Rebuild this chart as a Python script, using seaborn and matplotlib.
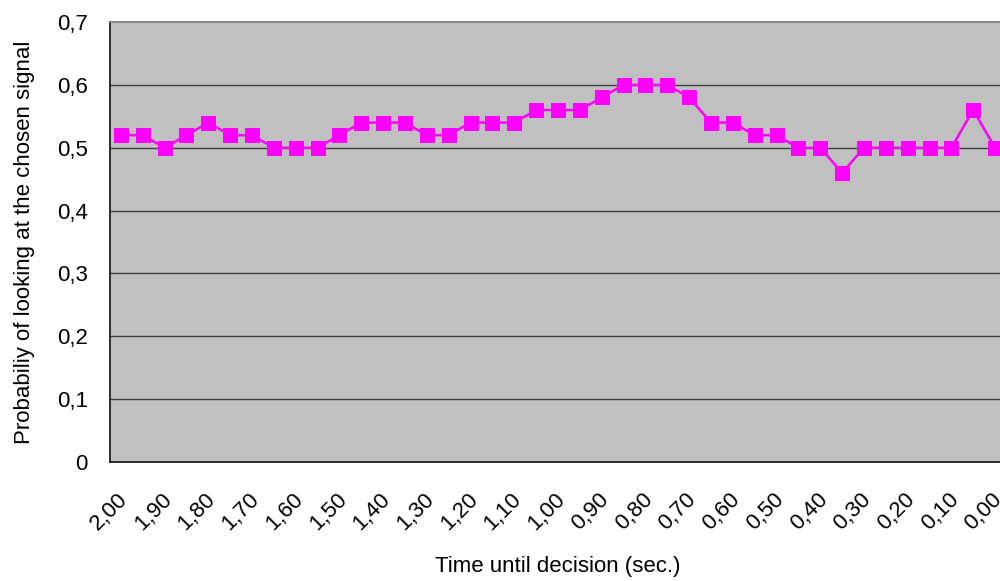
import numpy as np
import pandas as pd
import matplotlib
matplotlib.use('Agg')
import matplotlib.pyplot as plt
import matplotlib.transforms as mtransforms
import seaborn as sns

# time before decision (sec.), one point every 0.05 s
times = ['2,00', '1,95', '1,90', '1,85', '1,80', '1,75', '1,70', '1,65', '1,60', '1,55',
         '1,50', '1,45', '1,40', '1,35', '1,30', '1,25', '1,20', '1,15', '1,10', '1,05',
         '1,00', '0,95', '0,90', '0,85', '0,80', '0,75', '0,70', '0,65', '0,60', '0,55',
         '0,50', '0,45', '0,40', '0,35', '0,30', '0,25', '0,20', '0,15', '0,10', '0,05',
         '0,00']
prob = [0.52, 0.52, 0.50, 0.52, 0.54, 0.52, 0.52, 0.50, 0.50, 0.50,
        0.52, 0.54, 0.54, 0.54, 0.52, 0.52, 0.54, 0.54, 0.54, 0.56,
        0.56, 0.56, 0.58, 0.60, 0.60, 0.60, 0.58, 0.54, 0.54, 0.52,
        0.52, 0.50, 0.50, 0.46, 0.50, 0.50, 0.50, 0.50, 0.50, 0.56,
        0.50]
y_ticks = [0, 0.1, 0.2, 0.3, 0.4, 0.5, 0.6, 0.7]
y_ticklabels = ['0', '0,1', '0,2', '0,3', '0,4', '0,5', '0,6', '0,7']

df = pd.DataFrame({'pos': np.arange(len(times)), 'time': times, 'prob': prob})

sns.set_style('white')
plt.rcParams['font.family'] = ['Liberation Sans', 'DejaVu Sans']
plt.rcParams['text.color'] = 'black'
plt.rcParams['xtick.color'] = 'black'
plt.rcParams['ytick.color'] = 'black'
plt.rcParams['axes.labelcolor'] = 'black'

fs = 16

fig = plt.figure(figsize=(10, 5.81), dpi=100)
ax = fig.add_axes([0.11, 0.205, 0.896, 0.757])
ax.set_facecolor('#c0c0c0')

for t in y_ticks[1:-1]:
    ax.axhline(t, color='#404040', lw=1.0, zorder=1)

sns.lineplot(data=df, x='pos', y='prob', ax=ax, color='#ff00ff', lw=1.8,
             marker='s', markersize=9.5, markeredgecolor='#ff00ff', zorder=3)

ax.set_xlim(-0.5, len(times) - 0.5)
ax.set_ylim(0, 0.7)
ax.set_yticks(y_ticks)
ax.set_yticklabels(y_ticklabels, fontsize=fs)
ax.set_xticks(df['pos'][::2])
ax.set_xticklabels(df['time'][::2], rotation=45, ha='right', va='center',
                   rotation_mode='anchor', fontsize=fs)
ax.tick_params(axis='x', length=0, pad=25)
ax.tick_params(axis='y', length=0, pad=16)

# nudge the slanted labels a few pixels to the right
shift = mtransforms.ScaledTranslation(4 / 100, 0, fig.dpi_scale_trans)
for lbl in ax.get_xticklabels():
    lbl.set_transform(lbl.get_transform() + shift)

for side in ['left', 'bottom']:
    ax.spines[side].set_color('#202020')
    ax.spines[side].set_linewidth(1.3)
ax.spines['top'].set_color('#808080')
ax.spines['top'].set_linewidth(1.3)
ax.spines['right'].set_visible(False)

ax.set_xlabel('Time until decision (sec.)', fontsize=fs, labelpad=15)
ax.set_ylabel('Probabiliy of looking at the chosen signal', fontsize=fs, labelpad=16)

fig.savefig('out.png', dpi=100)
